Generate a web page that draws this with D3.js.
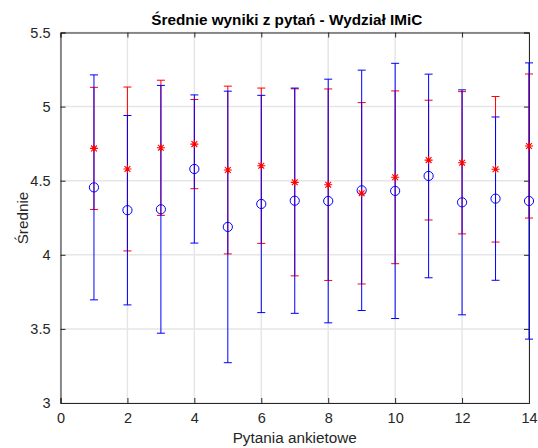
<!DOCTYPE html>
<html>
<head>
<meta charset="utf-8">
<script src="https://cdn.jsdelivr.net/npm/d3@7"></script>
<style>
  html, body { margin: 0; padding: 0; background: #fff; }
  svg { display: block; font-family: "Liberation Sans", Arial, Helvetica, sans-serif; }
</style>
</head>
<body>
<svg id="chart" width="538" height="448"></svg>
<script>
// ---- data ----
const questions = [1, 2, 3, 4, 5, 6, 7, 8, 9, 10, 11, 12, 13, 14];
const redMean = [4.718, 4.579, 4.722, 4.747, 4.572, 4.601, 4.489, 4.473, 4.415, 4.523, 4.639, 4.621, 4.577, 4.734];
const redErr  = [0.412, 0.553, 0.456, 0.301, 0.566, 0.524, 0.631, 0.646, 0.612, 0.583, 0.404, 0.480, 0.491, 0.486];
const blueMean = [4.455, 4.301, 4.307, 4.579, 4.188, 4.343, 4.365, 4.363, 4.435, 4.431, 4.532, 4.354, 4.379, 4.363];
const blueErr  = [0.759, 0.639, 0.836, 0.500, 0.916, 0.733, 0.760, 0.822, 0.811, 0.861, 0.687, 0.759, 0.551, 0.932];
const xTicks = [0, 2, 4, 6, 8, 10, 12, 14];
const yTicks = [3, 3.5, 4, 4.5, 5, 5.5];
const titleText = "Średnie wyniki z pytań - Wydział IMiC";
const xLabelText = "Pytania ankietowe";
const yLabelText = "Średnie";

// ---- layout ----
const svg = d3.select("#chart");
const L = 60.5, R = 529, T = 32.5, B = 403;
const x = d3.scaleLinear().domain([0, 14]).range([L, R]);
const y = d3.scaleLinear().domain([3, 5.5]).range([B, T]);
const axisColor = "#262626";
const gridColor = "#e6e6e6";

// grid
const grid = svg.append("g");
grid.selectAll("line.gx").data(xTicks).join("line")
  .attr("x1", d => x(d)).attr("x2", d => x(d))
  .attr("y1", T).attr("y2", B)
  .attr("stroke", gridColor).attr("stroke-width", 1.5);
grid.selectAll("line.gy").data(yTicks).join("line")
  .attr("y1", d => y(d)).attr("y2", d => y(d))
  .attr("x1", L).attr("x2", R)
  .attr("stroke", gridColor).attr("stroke-width", 1.5);

// axes (MATLAB style: ticks inward, box)
const tickLen = 5;
const xAxisB = d3.axisBottom(x).tickValues(xTicks).tickSize(-tickLen).tickPadding(10).tickFormat(d3.format("d"));
const xAxisT = d3.axisTop(x).tickValues(xTicks).tickSize(-tickLen).tickFormat("");
const yAxisL = d3.axisLeft(y).tickValues(yTicks).tickSize(-tickLen).tickPadding(10).tickFormat(d => String(d));
const yAxisR = d3.axisRight(y).tickValues(yTicks).tickSize(-tickLen).tickFormat("");

function styleAxis(g) {
  g.select(".domain").attr("stroke", axisColor).attr("stroke-width", 1);
  g.selectAll(".tick line").attr("stroke", axisColor);
  g.selectAll(".tick text").attr("fill", axisColor)
    .style("font-size", "14.5px").style("font-family", "'Liberation Sans', Arial, sans-serif");
}
svg.append("g").attr("transform", `translate(0,${B})`).call(xAxisB).call(styleAxis);
svg.append("g").attr("transform", `translate(0,${T})`).call(xAxisT).call(styleAxis);
svg.append("g").attr("transform", `translate(${L},0)`).call(yAxisL).call(styleAxis);
svg.append("g").attr("transform", `translate(${R},0)`).call(yAxisR).call(styleAxis);

// ---- error bars ----
const capW = 4;
function errorBars(mean, err, color, cls) {
  const data = questions.map((q, i) => ({ q, m: mean[i], e: err[i] }));
  const g = svg.append("g").attr("class", cls);
  g.selectAll("line.v").data(data).join("line")
    .attr("x1", d => x(d.q)).attr("x2", d => x(d.q))
    .attr("y1", d => y(d.m - d.e)).attr("y2", d => y(d.m + d.e))
    .attr("stroke", color).attr("stroke-width", 1);
  g.selectAll("line.top").data(data).join("line")
    .attr("x1", d => x(d.q) - capW).attr("x2", d => x(d.q) + capW)
    .attr("y1", d => y(d.m + d.e)).attr("y2", d => y(d.m + d.e))
    .attr("stroke", color).attr("stroke-width", 1);
  g.selectAll("line.bot").data(data).join("line")
    .attr("x1", d => x(d.q) - capW).attr("x2", d => x(d.q) + capW)
    .attr("y1", d => y(d.m - d.e)).attr("y2", d => y(d.m - d.e))
    .attr("stroke", color).attr("stroke-width", 1);
  return data;
}
errorBars(redMean, redErr, "#ff0000", "red");
const blueData = errorBars(blueMean, blueErr, "#0000ff", "blue");

// blue circles
svg.append("g").selectAll("circle").data(blueData).join("circle")
  .attr("cx", d => x(d.q)).attr("cy", d => y(d.m)).attr("r", 4.6)
  .attr("fill", "none").attr("stroke", "#0000ff").attr("stroke-width", 1);

// red asterisks
const redData = questions.map((q, i) => ({ q, m: redMean[i] }));
const s = 4, sd = 2.9;
const star = svg.append("g").selectAll("g").data(redData).join("g")
  .attr("transform", d => `translate(${x(d.q)},${y(d.m)})`);
star.append("path")
  .attr("d", `M${-s},0L${s},0M0,${-s}L0,${s}M${-sd},${-sd}L${sd},${sd}M${-sd},${sd}L${sd},${-sd}`)
  .attr("stroke", "#ff0000").attr("stroke-width", 1.1).attr("fill", "none");

// ---- texts ----
svg.append("text").attr("x", (L + R) / 2 - 8).attr("y", 25)
  .attr("text-anchor", "middle").style("font-weight", "bold").style("font-size", "15.3px")
  .attr("fill", "#000").text(titleText);
svg.append("text").attr("x", (L + R) / 2).attr("y", 443)
  .attr("text-anchor", "middle").style("font-size", "15.3px")
  .attr("fill", axisColor).text(xLabelText);
svg.append("text").attr("transform", `translate(28,218) rotate(-90)`)
  .attr("text-anchor", "middle").style("font-size", "15.3px")
  .attr("fill", axisColor).text(yLabelText);
</script>
</body>
</html>
